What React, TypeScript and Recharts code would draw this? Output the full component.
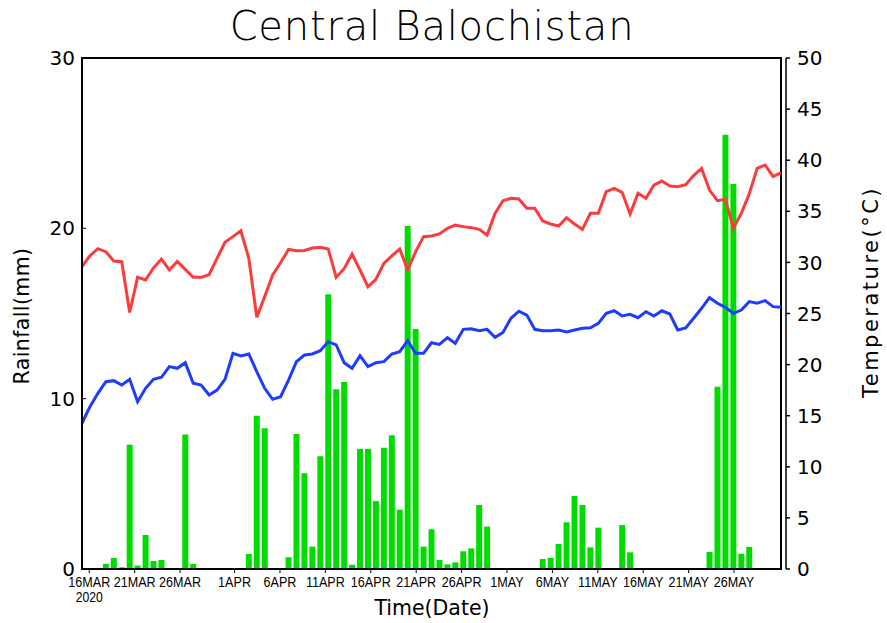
import { ComposedChart, Bar, Line, XAxis, YAxis, ReferenceArea } from 'recharts';

// daily series, one value per grid step (89 steps across the plot)
const rainfall = [
  0, 0, 0, 0.3, 0.65, 0.1, 7.3, 0.2, 2.0, 0.47,
  0.53, 0, 0.05, 7.9, 0.3, 0, 0, 0, 0, 0,
  0, 0.88, 9.0, 8.26, 0, 0, 0.69, 7.93, 5.62, 1.31,
  6.62, 16.13, 10.55, 10.98, 0.25, 7.05, 7.05, 3.99, 7.12, 7.85,
  3.48, 20.14, 14.09, 1.31, 2.33, 0.53, 0.27, 0.39, 1.04, 1.21,
  3.76, 2.49, 0, 0, 0, 0.05, 0, 0, 0.59, 0.65,
  1.47, 2.74, 4.29, 3.76, 1.27, 2.43, 0, 0, 2.58, 0.98,
  0, 0, 0, 0, 0, 0, 0, 0, 0, 1.0,
  10.7, 25.5, 22.6, 0.9, 1.3, 0, 0, 0.05, 0,
];

const tmax = [
  29.58, 30.66, 31.34, 31.05, 30.14, 30.07, 25.1, 28.54, 28.28, 29.45,
  30.33, 29.26, 30.1, 29.32, 28.54, 28.54, 28.8, 30.4, 31.97, 32.52,
  33.1, 30.4, 24.63, 26.65, 28.77, 29.97, 31.28, 31.15, 31.17, 31.41,
  31.48, 31.31, 28.54, 29.38, 30.82, 29.26, 27.62, 28.35, 29.91, 30.63,
  31.31, 29.26, 31.05, 32.52, 32.58, 32.78, 33.34, 33.66, 33.5, 33.4,
  33.24, 32.68, 34.8, 36.04, 36.27, 36.2, 35.3, 35.3, 34.05, 33.76,
  33.56, 34.37, 33.76, 33.24, 34.8, 34.8, 36.92, 37.25, 36.86, 34.74,
  36.76, 36.27, 37.57, 37.96, 37.48, 37.41, 37.6, 38.5, 39.2, 37.08,
  36.04, 36.17, 33.34, 34.8, 36.7, 39.2, 39.53, 38.39, 38.78,
];

const tmin = [
  14.26, 15.88, 17.19, 18.33, 18.43, 18.0, 18.56, 16.37, 17.68, 18.56,
  18.76, 19.8, 19.64, 20.19, 18.17, 18.0, 17.03, 17.51, 18.56, 21.1,
  20.84, 21.04, 19.31, 17.68, 16.6, 16.86, 18.49, 20.29, 20.94, 21.04,
  21.36, 22.24, 21.92, 20.19, 19.64, 20.87, 19.8, 20.19, 20.29, 21.04,
  21.26, 22.34, 21.1, 21.1, 22.14, 21.98, 22.63, 22.08, 23.45, 23.51,
  23.32, 23.45, 22.67, 23.15, 24.53, 25.22, 24.85, 23.45, 23.32, 23.32,
  23.39, 23.19, 23.39, 23.55, 23.61, 24.04, 25.02, 25.27, 24.76, 24.92,
  24.59, 25.18, 24.76, 25.27, 24.95, 23.39, 23.58, 24.53, 25.51, 26.55,
  26.0, 25.6, 25.02, 25.34, 26.16, 26.0, 26.26, 25.67, 25.6,
];

// time axis labels: days after 16 Mar 2020, and the day span of the axis
const dateTickDays = [0, 5, 10, 16, 21, 26, 31, 36, 41, 46, 51, 56, 61, 66, 71];
const dateTickLabels = [
  '16MAR', '21MAR', '26MAR', '1APR', '6APR', '11APR', '16APR', '21APR',
  '26APR', '1MAY', '6MAY', '11MAY', '16MAY', '21MAY', '26MAY',
];
const dateSpan = [-0.8, 76.17];

const rainTicks = [0, 10, 20, 30];
const tempTicks = [0, 5, 10, 15, 20, 25, 30, 35, 40, 45, 50];

const FONT = "'DejaVu Sans', sans-serif";
const TICK_FONT = "'Liberation Sans', Arial, sans-serif";

const lastIdx = rainfall.length - 1;
const rows = rainfall.map((r, i) => ({ i, rain: r, tmax: tmax[i], tmin: tmin[i] }));

// the time labels run on their own day scale across the same plot width
const dateTickPos = dateTickDays.map(
  (d) => ((d - dateSpan[0]) / (dateSpan[1] - dateSpan[0])) * lastIdx
);

function DateTick({ x, y, index }: any) {
  // narrow the glyphs a little, like the plotting program's condensed labels
  const squeeze = `translate(${x} 0) scale(0.84 1) translate(${-x} 0)`;
  return (
    <g transform={squeeze}>
      <text x={x} y={y + 12} textAnchor="middle" fontSize={15} fontFamily={TICK_FONT} fill="#000">
        {dateTickLabels[index]}
      </text>
      {index === 0 && (
        <text x={x} y={y + 27} textAnchor="middle" fontSize={14.5} fontFamily={TICK_FONT} fill="#000">
          2020
        </text>
      )}
    </g>
  );
}

export default function App() {
  return (
    <div style={{ position: 'absolute', left: 0, top: 0, width: 887, height: 623, background: '#fff' }}>
      <ComposedChart width={887} height={623} data={rows} margin={{ top: 58, right: 0, bottom: 0, left: 0 }}>
        <XAxis
          dataKey="i"
          type="number"
          domain={[0, lastIdx]}
          ticks={dateTickPos}
          interval={0}
          height={54}
          tickSize={4}
          tickMargin={2}
          tick={<DateTick />}
          tickLine={{ stroke: '#000' }}
          axisLine={{ stroke: '#000', strokeWidth: 2 }}
        />
        <YAxis
          yAxisId="rain"
          orientation="left"
          width={82}
          domain={[0, 30]}
          ticks={rainTicks}
          tickSize={4}
          tickMargin={3}
          tick={{ fontSize: 20, fill: '#000', fontFamily: FONT }}
          tickLine={{ stroke: '#000', transform: 'translate(4,0)' }}
          axisLine={{ stroke: '#000', strokeWidth: 2 }}
        />
        <YAxis
          yAxisId="temp"
          orientation="right"
          width={106}
          domain={[0, 50]}
          ticks={tempTicks}
          tickSize={4}
          tickMargin={12}
          tick={{ fontSize: 20, fill: '#000', fontFamily: FONT, textAnchor: 'start' }}
          tickLine={{ stroke: '#000', strokeWidth: 1.5, transform: 'translate(5,0)' }}
          axisLine={{ stroke: '#000', strokeWidth: 1.5, transform: 'translate(5,0)' }}
        />
        <Bar yAxisId="rain" dataKey="rain" fill="#00dc00" barSize={6} isAnimationActive={false} />
        <Line
          yAxisId="temp"
          dataKey="tmax"
          stroke="#fa3c3c"
          strokeWidth={3}
          dot={false}
          isAnimationActive={false}
        />
        <Line
          yAxisId="temp"
          dataKey="tmin"
          stroke="#1e3cff"
          strokeWidth={3}
          dot={false}
          isAnimationActive={false}
        />
        <ReferenceArea
          yAxisId="rain"
          x1={0}
          x2={lastIdx}
          y1={0}
          y2={30}
          fill="none"
          fillOpacity={0}
          stroke="#000"
          strokeWidth={2}
        />
      </ComposedChart>
      <svg
        width={887}
        height={623}
        style={{ position: 'absolute', left: 0, top: 0, pointerEvents: 'none' }}
        fontFamily={FONT}
      >
        <text x={432} y={40} textAnchor="middle" fontSize={40} fontWeight={200} letterSpacing={0.8} fill="#000">
          Central Balochistan
        </text>
        <text x={432} y={615} textAnchor="middle" fontSize={20.5} fill="#000">
          Time(Date)
        </text>
        <text
          x={22}
          y={316}
          textAnchor="middle"
          dominantBaseline="central"
          fontSize={20.5}
          letterSpacing={0.4}
          fill="#000"
          transform="rotate(-90 22 316)"
        >
          Rainfall(mm)
        </text>
        <text
          x={871}
          y={292}
          textAnchor="middle"
          dominantBaseline="central"
          fontSize={21}
          letterSpacing={2.5}
          fill="#000"
          transform="rotate(-90 871 292)"
        >
          Temperature(°C)
        </text>
      </svg>
    </div>
  );
}
